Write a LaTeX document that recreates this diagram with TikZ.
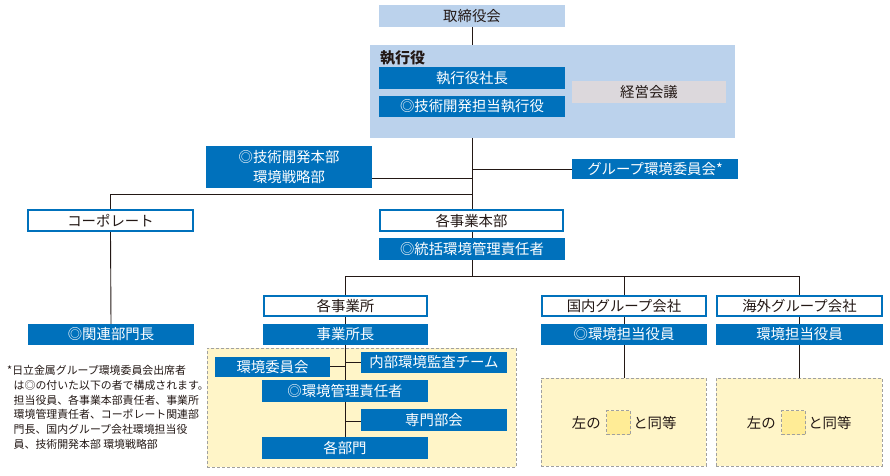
\documentclass[tikz,border=0pt]{standalone}
\usepackage{fontspec}
\setmainfont{Noto Sans CJK JP}
\definecolor{dblue}{RGB}{0,113,188}
\definecolor{lblue}{RGB}{187,210,236}
\definecolor{graybox}{RGB}{220,216,220}
\definecolor{yel}{RGB}{255,245,200}
\definecolor{yel2}{RGB}{255,236,150}
\definecolor{dashgray}{RGB}{160,160,160}
\definecolor{txt}{RGB}{35,24,21}
\begin{document}
\begin{tikzpicture}[x=1pt,y=-1pt,
  base/.style={inner sep=0pt, anchor=center, font=\fontsize{14.4}{16}\selectfont},
  lb/.style={base, fill=lblue, text=txt},
  db/.style={base, fill=dblue, text=white},
  wb/.style={base, fill=white, draw=dblue, line width=2pt, text=txt},
  gb/.style={base, fill=graybox, text=txt},
  yb/.style={base, fill=yel, draw=dashgray, line width=0.8pt, dash pattern=on 3pt off 2pt},
  sq/.style={base, fill=yel2, draw=dashgray, line width=1.2pt, dash pattern=on 3pt off 2pt, minimum width=24pt, minimum height=24pt},
  ln/.style={draw=txt, line width=0.9pt},
  note/.style={inner sep=0pt, anchor=north west, align=left, text=txt, font=\fontsize{10.9}{14.7}\selectfont}
]
\useasboundingbox (0,0) rectangle (890,475);
\fill[white] (0,0) rectangle (890,475);

% top
\node[lb, minimum width=186pt, minimum height=22pt] (tori) at (472,16) {取締役会};
\node[lb, minimum width=365pt, minimum height=93pt] (shikko) at (552.5,91.5) {};
\node[base, anchor=west, text=txt, font=\fontsize{15}{16}\selectfont] (shikkolbl) at (380,58) {\bfseries 執行役};
\node[db, minimum width=186pt, minimum height=22pt] (shacho) at (472,78) {執行役社長};
\node[db, minimum width=186pt, minimum height=21pt] (gtan) at (472,106.5) {◎技術開発担当執行役};
\node[gb, minimum width=154pt, minimum height=22pt] (keiei) at (649,92) {経営会議};

\node[db, minimum width=166pt, minimum height=42pt, align=center, font=\fontsize{14.4}{20}\selectfont] (hg) at (289,167) {◎技術開発本部\\環境戦略部};
\node[db, minimum width=166pt, minimum height=20pt] (group) at (655,169) {グループ環境委員会*};

\node[wb, minimum width=165pt, minimum height=21pt] (corp) at (110.5,220.5) {コーポレート};
\node[wb, minimum width=183pt, minimum height=21pt] (jhonbu) at (471.5,220.5) {各事業本部};
\node[db, minimum width=186pt, minimum height=22pt] (tokatsu) at (472,249) {◎統括環境管理責任者};

\node[wb, minimum width=163pt, minimum height=20pt] (jigyosho) at (345.5,306) {各事業所};
\node[db, minimum width=165pt, minimum height=21pt] (shocho) at (345.5,334.5) {事業所長};
\node[db, minimum width=166pt, minimum height=21pt] (kanren) at (111,334.5) {◎関連部門長};
\node[wb, minimum width=164pt, minimum height=20pt] (kokunai) at (624,306) {国内グループ会社};
\node[db, minimum width=166pt, minimum height=21pt] (kokunaiy) at (624,334.5) {◎環境担当役員};
\node[wb, minimum width=165pt, minimum height=20pt] (kaigai) at (799.5,306) {海外グループ会社};
\node[db, minimum width=167pt, minimum height=21pt] (kaigaiy) at (799.5,334.5) {環境担当役員};

% yellow boxes
\node[yb, minimum width=309pt, minimum height=119pt] (yb1) at (361.5,407.5) {};
\node[yb, minimum width=165pt, minimum height=88pt] (yb2) at (623.5,422) {};
\node[yb, minimum width=166pt, minimum height=88pt] (yb3) at (799,422) {};

\node[db, minimum width=115pt, minimum height=20pt] (iinkai) at (272.5,367) {環境委員会};
\node[db, minimum width=146pt, minimum height=21pt] (naibu) at (434,362.5) {内部環境監査チーム};
\node[db, minimum width=166pt, minimum height=22pt] (ksek) at (345,391) {◎環境管理責任者};
\node[db, minimum width=146pt, minimum height=22pt] (senmon) at (434,420) {専門部会};
\node[db, minimum width=166pt, minimum height=22pt] (bumon) at (345,448) {各部門};

% "left equal" texts
\node[sq] (sq2) at (618.5,422.5) {};
\node[base, anchor=east, text=txt] (l2) at ([xshift=-5pt]sq2.west) {左の};
\node[base, anchor=west, text=txt] (r2) at ([xshift=2pt]sq2.east) {と同等};
\node[sq] (sq3) at (793.5,422.5) {};
\node[base, anchor=east, text=txt] (l3) at ([xshift=-5pt]sq3.west) {左の};
\node[base, anchor=west, text=txt] (r3) at ([xshift=2pt]sq3.east) {と同等};

% footnote
\node[note] (fn) at (7,365.5) {*日立金属グループ環境委員会出席者\\
\hspace*{6.5pt}は◎の付いた以下の者で構成されます。\\
\hspace*{6.5pt}担当役員、各事業本部責任者、事業所\\
\hspace*{6.5pt}環境管理責任者、コーポレート関連部\\
\hspace*{6.5pt}門長、国内グループ会社環境担当役\\
\hspace*{6.5pt}員、技術開発本部 環境戦略部};

% connectors
\coordinate (g1) at (472,178);
\coordinate (g2) at (472,169);
\coordinate (hc) at (110.5,194);
\coordinate (hs) at (472,194);
\coordinate (j2) at (472,276);
\coordinate (hl) at (345.5,276);
\coordinate (hr) at (799.5,276);
\draw[ln] (tori.south) -- (shikko.north -| tori.south);
\draw[ln] (shikko.south -| tori.south) -- (jhonbu.north -| tori.south);
\draw[ln] (g1 -| hg.east) -- (g1);
\draw[ln] (g2) -- (group.west);
\draw[ln] (hc) -- (hs);
\draw[ln] (hc) -- (corp.north);
\draw[ln] (corp.south) -- (kanren.north);
\draw[ln] (jhonbu.south -| tori.south) -- (tokatsu.north);
\draw[ln] (tokatsu.south) -- (j2);
\draw[ln] (hl) -- (hr);
\draw[ln] (hl) -- (jigyosho.north);
\draw[ln] (kokunai.north |- hl) -- (kokunai.north);
\draw[ln] (hr) -- (kaigai.north);
\draw[ln] (jigyosho.south) -- (shocho.north);
\draw[ln] (kokunai.south) -- (kokunaiy.north);
\draw[ln] (kaigai.south) -- (kaigaiy.north);
\draw[ln] (kokunaiy.south) -- (kokunaiy.south |- yb2.north);
\draw[ln] (kaigaiy.south) -- (kaigaiy.south |- yb3.north);
\draw[ln] (shocho.south -| ksek.north) -- (ksek.north);
\draw[ln] (ksek.south) -- (bumon.north);
\draw[ln] ([yshift=1pt]iinkai.east) -- ([yshift=1pt]iinkai.east -| ksek.north);
\draw[ln] (naibu.west -| ksek.north) -- (naibu.west);
\draw[ln] ([yshift=-1pt]senmon.west -| ksek.north) -- ([yshift=-1pt]senmon.west);
\end{tikzpicture}
\end{document}
